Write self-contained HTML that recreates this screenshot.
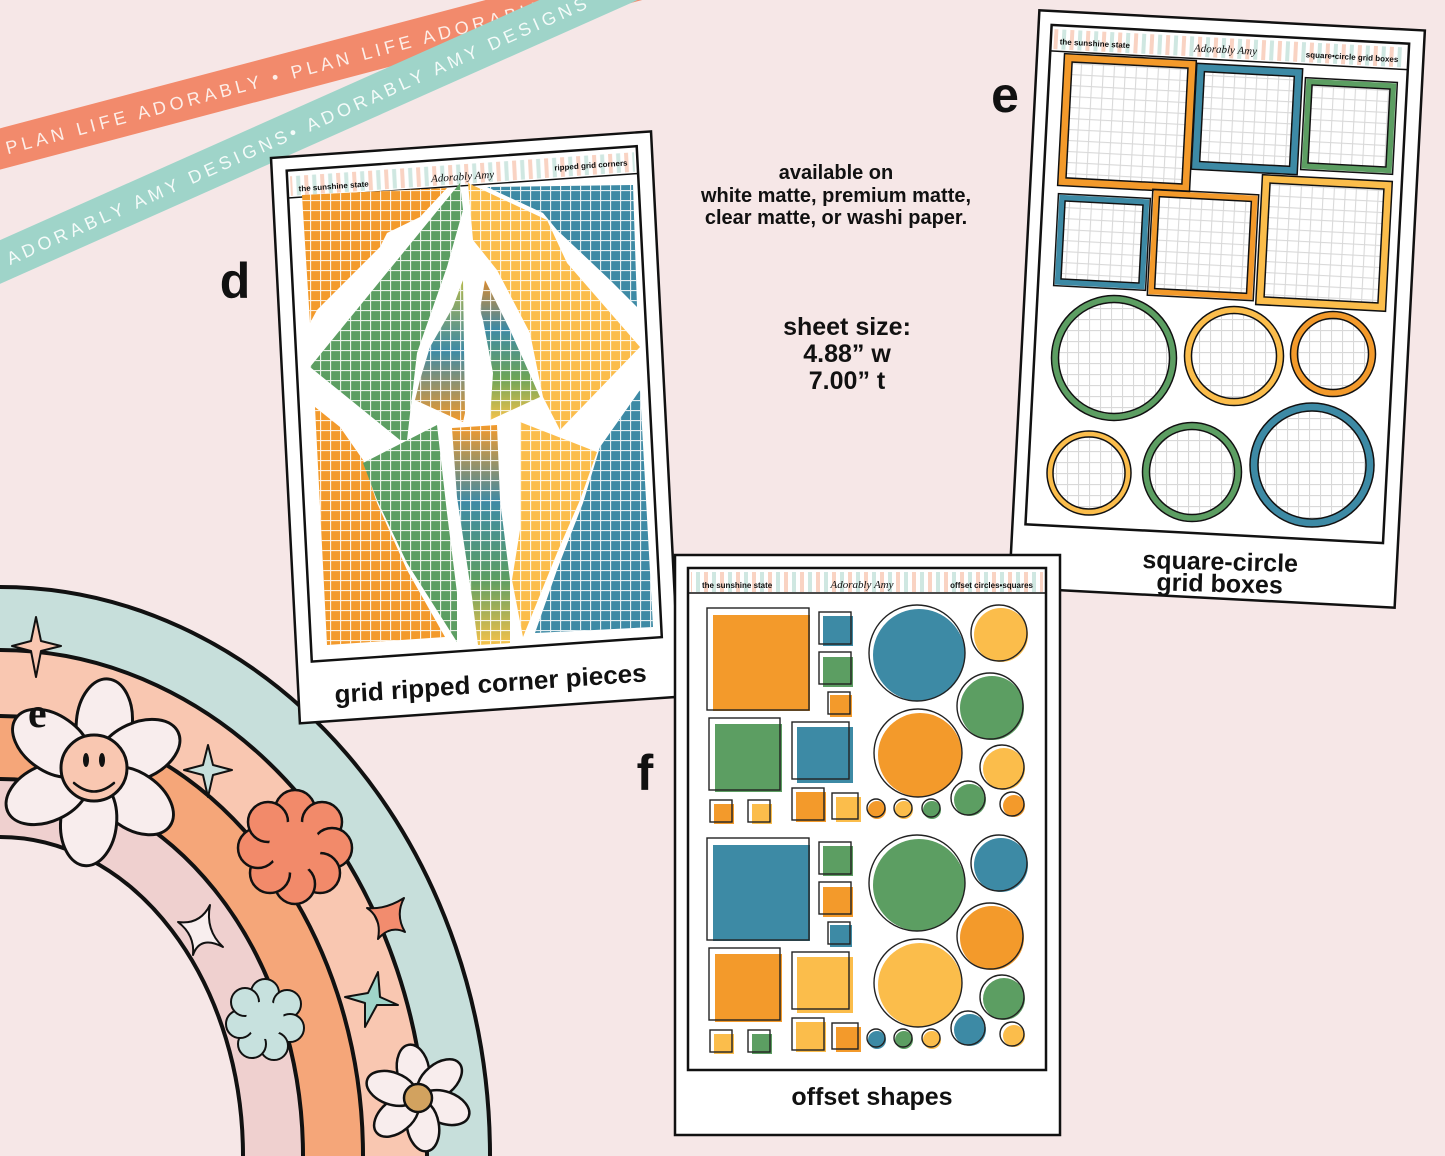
<!DOCTYPE html>
<html><head><meta charset="utf-8"><style>
html,body{margin:0;padding:0;background:#f6e7e7;width:1445px;height:1156px;overflow:hidden;}
svg{display:block;font-family:"Liberation Sans",sans-serif;}
</style></head><body>
<svg width="1445" height="1156" viewBox="0 0 1445 1156" xmlns="http://www.w3.org/2000/svg" overflow="hidden">
<defs>
<clipPath id="cv"><rect x="0" y="0" width="1445" height="1156"/></clipPath>
<pattern id="gw" width="10" height="10" patternUnits="userSpaceOnUse"><path d="M0 0.5H10M0.5 0V10" stroke="#fff" stroke-width="1.3" opacity=".85"/></pattern>
<pattern id="gg" width="11" height="11" patternUnits="userSpaceOnUse"><path d="M0 0.5H11M0.5 0V11" stroke="#d9d9d9" stroke-width="1.2"/></pattern>
<pattern id="st" width="16" height="20" patternUnits="userSpaceOnUse"><rect width="16" height="20" fill="#fff"/><rect x="0" width="4" height="20" fill="#f9d3c3"/><rect x="8" width="4" height="20" fill="#cfe7e1"/></pattern>
<linearGradient id="gl" x1="0" y1="0" x2="0" y2="1"><stop offset="0" stop-color="#b3b84a"/><stop offset=".5" stop-color="#3d8aa5"/><stop offset="1" stop-color="#f39a2b"/></linearGradient>
<linearGradient id="gr" x1="0" y1="0" x2="0" y2="1"><stop offset="0" stop-color="#d98a30"/><stop offset=".35" stop-color="#3d8aa5"/><stop offset=".7" stop-color="#6da457"/><stop offset="1" stop-color="#f4c24a"/></linearGradient>
<linearGradient id="gm" x1="0" y1="0" x2="0" y2="1"><stop offset="0" stop-color="#f39a2b"/><stop offset=".35" stop-color="#3d8aa5"/><stop offset=".7" stop-color="#5c9e62"/><stop offset="1" stop-color="#f6c24a"/></linearGradient>
</defs>
<g clip-path="url(#cv)">
<!-- ribbons -->
<g transform="translate(0,149) rotate(-14.8)">
<rect x="-60" y="-20" width="800" height="40" fill="#f28a6c"/>
<text x="6" y="7" font-size="18" letter-spacing="4.2" fill="#fdeee8">PLAN LIFE ADORABLY • PLAN LIFE ADORABLY • PLAN</text>
</g>
<g transform="translate(0,262) rotate(-24)">
<rect x="-60" y="-20" width="800" height="40" fill="#9fd4c9"/>
<text x="8" y="7" font-size="18" letter-spacing="4.2" fill="#f4fbf9">ADORABLY AMY DESIGNS• ADORABLY AMY DESIGNS • AD</text>
</g>

<!-- rainbow -->
<g stroke="#111" stroke-width="4">
<ellipse cx="0" cy="1156" rx="490" ry="569" fill="#c7dfdb"/>
<ellipse cx="0" cy="1156" rx="427" ry="506" fill="#f9c7b1"/>
<ellipse cx="0" cy="1156" rx="363" ry="440" fill="#f5a679"/>
<ellipse cx="0" cy="1156" rx="303" ry="377" fill="#efd0cf"/>
<ellipse cx="0" cy="1156" rx="243" ry="319" fill="#f6e7e7"/>
</g>
<g stroke="#111" stroke-width="2" stroke-linejoin="round">
<path d="M36 617 L41 641 L61 646 L41 651 L36 677 L31 651 L12 646 L31 641Z" fill="#f9c7b1"/>
<path d="M208 745 L213 765 L232 770 L213 775 L208 797 L203 775 L184 770 L203 765Z" fill="#c7dfdb"/>
<path d="M178 922 Q200 925 210 905 Q205 930 223 947 Q200 935 193 955 Q195 935 178 922Z" fill="#f8eeee"/>
<path d="M404 898 Q385 910 367 908 Q382 918 378 939 Q390 925 405 932 Q395 915 404 898Z" fill="#f28c6e"/>
<path d="M378 972 L380 997 L398 1005 L377 1005 L365 1027 L365 1003 L345 997 L368 993Z" fill="#9fd4c9"/>
</g>
<g stroke="#111" stroke-width="3" fill="#f8eded">
<ellipse cx="100" cy="722" rx="28" ry="44" transform="rotate(5 93 772)"/>
<ellipse cx="93" cy="722" rx="28" ry="44" transform="rotate(65 93 772)"/>
<ellipse cx="93" cy="722" rx="28" ry="44" transform="rotate(125 93 772)"/>
<ellipse cx="93" cy="722" rx="28" ry="44" transform="rotate(185 93 772)"/>
<ellipse cx="93" cy="722" rx="28" ry="44" transform="rotate(245 93 772)"/>
<ellipse cx="93" cy="722" rx="28" ry="44" transform="rotate(305 93 772)"/>
<circle cx="94" cy="768" r="33" fill="#f9c7b1"/>
</g>
<path d="M74 783 Q94 800 114 783" stroke="#111" fill="none" stroke-width="2.5" stroke-linecap="round"/>
<ellipse cx="86" cy="760" rx="3" ry="7" fill="#111"/><ellipse cx="102" cy="760" rx="3" ry="7" fill="#111"/>
<text x="28" y="727" font-family="Liberation Serif,serif" font-size="42" font-weight="bold" fill="#111">e</text>
<g stroke="#111" stroke-width="2.5" fill="#f28a6a">
<circle cx="295" cy="810" r="20"/><circle cx="322" cy="822" r="20"/><circle cx="332" cy="848" r="20"/><circle cx="320" cy="873" r="20"/><circle cx="295" cy="884" r="20"/><circle cx="270" cy="873" r="20"/><circle cx="258" cy="848" r="20"/><circle cx="268" cy="822" r="20"/>
<circle cx="295" cy="847" r="26" stroke="none"/>
</g>
<g stroke="#111" stroke-width="2" fill="#c7e1de">
<circle cx="265" cy="993" r="14"/><circle cx="287" cy="1004" r="14"/><circle cx="290" cy="1028" r="14"/><circle cx="274" cy="1046" r="14"/><circle cx="252" cy="1044" r="14"/><circle cx="240" cy="1024" r="14"/><circle cx="245" cy="1002" r="14"/>
<circle cx="265" cy="1020" r="19" stroke="none"/>
</g>
<g stroke="#111" stroke-width="2.5" fill="#f8eded">
<ellipse cx="418" cy="1070" rx="16" ry="26" transform="rotate(-10 418 1098)"/>
<ellipse cx="418" cy="1070" rx="16" ry="26" transform="rotate(50 418 1098)"/>
<ellipse cx="418" cy="1070" rx="16" ry="26" transform="rotate(110 418 1098)"/>
<ellipse cx="418" cy="1070" rx="16" ry="26" transform="rotate(170 418 1098)"/>
<ellipse cx="418" cy="1070" rx="16" ry="26" transform="rotate(230 418 1098)"/>
<ellipse cx="418" cy="1070" rx="16" ry="26" transform="rotate(290 418 1098)"/>
<circle cx="418" cy="1098" r="14" fill="#d2a25f"/>
</g>

<!-- labels -->
<text x="235" y="298" text-anchor="middle" font-size="50" font-weight="bold" fill="#111">d</text>
<text x="1005" y="112" text-anchor="middle" font-size="50" font-weight="bold" fill="#111">e</text>
<text x="645" y="790" text-anchor="middle" font-size="50" font-weight="bold" fill="#111">f</text>
<g font-size="20" font-weight="bold" fill="#111" text-anchor="middle">
<text x="836" y="179">available on</text>
<text x="836" y="202">white matte, premium matte,</text>
<text x="836" y="224">clear matte, or washi paper.</text>
</g>
<g font-size="25" font-weight="bold" fill="#111" text-anchor="middle">
<text x="847" y="335">sheet size:</text>
<text x="847" y="362">4.88” w</text>
<text x="847" y="389">7.00” t</text>
</g>

<!-- SHEET D -->
<g transform="matrix(1.0,-0.07,0.05,0.978,271,158)">
<rect x="0" y="0" width="380" height="578" fill="#fff" stroke="#111" stroke-width="2.5"/>
<rect x="15" y="14" width="350" height="502" fill="#fff" stroke="#111" stroke-width="2.5"/>
<rect x="18" y="20" width="344" height="20" fill="url(#st)"/>
<line x1="15" y1="42" x2="365" y2="42" stroke="#111" stroke-width="1.5"/>
<text x="26" y="36" font-size="8" font-weight="bold" fill="#111">the sunshine state</text>
<text x="190" y="36" font-size="11" font-style="italic" font-family="Liberation Serif,serif" text-anchor="middle" fill="#111">Adorably Amy</text>
<text x="355" y="33" font-size="8" font-weight="bold" fill="#111" text-anchor="end">ripped grid corners</text>
<text x="192" y="560" font-size="26" font-weight="bold" fill="#111" text-anchor="middle">grid ripped corner pieces</text>
</g>
<g>
<polygon points="302,195 447,188 420,217 387,233 380,247 350,277 317,310 310,323" fill="#f39a2b"/>
<polygon points="487,187 633,185 637,307 610,280 557,230 543,213" fill="#3d8aa5"/>
<polygon points="460,183 463,210 447,267 417,353 407,440 400,440 310,367" fill="#5c9e62"/>
<polygon points="468,183 547,220 567,263 640,347 560,430 543,397 530,333 497,270 473,240" fill="#fbbd4b"/>
<polygon points="463,280 465,413 463,422 415,400 420,380 430,347 453,307" fill="url(#gl)"/>
<polygon points="485,280 510,330 540,397 490,420 493,373 483,320 480,310" fill="url(#gr)"/>
<polygon points="315,407 340,427 363,460 377,503 407,570 445,637 327,645" fill="#f39a2b"/>
<polygon points="363,463 437,425 447,513 457,593 457,642 407,563 377,500" fill="#5c9e62"/>
<polygon points="452,428 497,425 500,500 510,580 510,643 478,645 472,597 457,497" fill="url(#gm)"/>
<polygon points="520,422 597,452 580,500 557,553 523,637 512,580 520,530" fill="#fbbd4b"/>
<polygon points="640,390 653,627 535,633 557,570 583,503 600,447" fill="#3d8aa5"/>
<g fill="url(#gw)">
<polygon points="302,195 447,188 420,217 387,233 380,247 350,277 317,310 310,323"/>
<polygon points="487,187 633,185 637,307 610,280 557,230 543,213"/>
<polygon points="460,183 463,210 447,267 417,353 407,440 400,440 310,367"/>
<polygon points="468,183 547,220 567,263 640,347 560,430 543,397 530,333 497,270 473,240"/>
<polygon points="463,280 465,413 463,422 415,400 420,380 430,347 453,307"/>
<polygon points="485,280 510,330 540,397 490,420 493,373 483,320 480,310"/>
<polygon points="315,407 340,427 363,460 377,503 407,570 445,637 327,645"/>
<polygon points="363,463 437,425 447,513 457,593 457,642 407,563 377,500"/>
<polygon points="452,428 497,425 500,500 510,580 510,643 478,645 472,597 457,497"/>
<polygon points="520,422 597,452 580,500 557,553 523,637 512,580 520,530"/>
<polygon points="640,390 653,627 535,633 557,570 583,503 600,447"/>
</g>
</g>

<!-- SHEET E -->
<g transform="rotate(3 1217 309)">
<rect x="1024" y="20" width="386" height="578" fill="#fff" stroke="#111" stroke-width="2.5"/>
<rect x="1037" y="34" width="358" height="500" fill="#fff" stroke="#111" stroke-width="2.5"/>
<rect x="1040" y="38" width="352" height="20" fill="url(#st)"/>
<line x1="1037" y1="60" x2="1395" y2="60" stroke="#111" stroke-width="1.5"/>
<text x="1046" y="53" font-size="8" font-weight="bold" fill="#111">the sunshine state</text>
<text x="1212" y="53" font-size="11" font-style="italic" font-family="Liberation Serif,serif" text-anchor="middle" fill="#111">Adorably Amy</text>
<text x="1385" y="53" font-size="8" font-weight="bold" fill="#111" text-anchor="end">square•circle grid boxes</text>
</g>
<g transform="rotate(1.5 1220 570)">
<text x="1220" y="570" font-size="25" font-weight="bold" fill="#111" text-anchor="middle">square-circle</text>
<text x="1220" y="592" font-size="25" font-weight="bold" fill="#111" text-anchor="middle">grid boxes</text>
</g>
<g>
<g transform="rotate(3 1127 123)"><rect x="1065" y="61" width="124" height="124" fill="url(#gg)" stroke="#f39a2b" stroke-width="7"/><rect x="1061" y="57" width="132" height="132" fill="none" stroke="#111" stroke-width="1.5"/><rect x="1069" y="65" width="116" height="116" fill="none" stroke="#111" stroke-width="1.5"/></g>
<g transform="rotate(3 1247 119)"><rect x="1198" y="70" width="98" height="98" fill="url(#gg)" stroke="#3d8aa5" stroke-width="7"/><rect x="1194" y="66" width="106" height="106" fill="none" stroke="#111" stroke-width="1.5"/><rect x="1202" y="74" width="90" height="90" fill="none" stroke="#111" stroke-width="1.5"/></g>
<g transform="rotate(3 1349 126)"><rect x="1307" y="84" width="84" height="84" fill="url(#gg)" stroke="#5c9e62" stroke-width="6"/><rect x="1303" y="80" width="92" height="92" fill="none" stroke="#111" stroke-width="1.5"/><rect x="1310" y="87" width="78" height="78" fill="none" stroke="#111" stroke-width="1.5"/></g>
<g transform="rotate(3 1102 242)"><rect x="1060" y="200" width="84" height="84" fill="url(#gg)" stroke="#3d8aa5" stroke-width="6"/><rect x="1056" y="196" width="92" height="92" fill="none" stroke="#111" stroke-width="1.5"/><rect x="1063" y="203" width="78" height="78" fill="none" stroke="#111" stroke-width="1.5"/></g>
<g transform="rotate(3 1203 245)"><rect x="1154" y="196" width="98" height="98" fill="url(#gg)" stroke="#f39a2b" stroke-width="6"/><rect x="1150" y="192" width="106" height="106" fill="none" stroke="#111" stroke-width="1.5"/><rect x="1157" y="199" width="92" height="92" fill="none" stroke="#111" stroke-width="1.5"/></g>
<g transform="rotate(3 1324 243)"><rect x="1263" y="182" width="122" height="122" fill="url(#gg)" stroke="#fbbd4b" stroke-width="7"/><rect x="1259" y="178" width="130" height="130" fill="none" stroke="#111" stroke-width="1.5"/><rect x="1267" y="186" width="114" height="114" fill="none" stroke="#111" stroke-width="1.5"/></g>
<g fill="url(#gg)" stroke-width="6">
<circle cx="1114" cy="358" r="59" stroke="#5c9e62"/>
<circle cx="1234" cy="356" r="46" stroke="#fbbd4b"/>
<circle cx="1333" cy="354" r="39" stroke="#f39a2b"/>
<circle cx="1089" cy="473" r="39" stroke="#fbbd4b" stroke-width="5"/>
<circle cx="1192" cy="472" r="46" stroke="#5c9e62"/>
<circle cx="1312" cy="465" r="58" stroke="#3d8aa5" stroke-width="7"/>
</g>
<g fill="none" stroke="#111" stroke-width="1.5">
<circle cx="1114" cy="358" r="62.5"/><circle cx="1114" cy="358" r="55.5"/>
<circle cx="1234" cy="356" r="49.5"/><circle cx="1234" cy="356" r="42.5"/>
<circle cx="1333" cy="354" r="42.5"/><circle cx="1333" cy="354" r="35.5"/>
<circle cx="1089" cy="473" r="42"/><circle cx="1089" cy="473" r="36"/>
<circle cx="1192" cy="472" r="49.5"/><circle cx="1192" cy="472" r="42.5"/>
<circle cx="1312" cy="465" r="62"/><circle cx="1312" cy="465" r="54"/>
</g>
</g>

<!-- SHEET F -->
<rect x="675" y="555" width="385" height="580" fill="#fff" stroke="#111" stroke-width="2.5"/>
<rect x="688" y="568" width="358" height="502" fill="#fff" stroke="#111" stroke-width="2.5"/>
<rect x="691" y="572" width="352" height="20" fill="url(#st)"/>
<line x1="688" y1="593" x2="1046" y2="593" stroke="#111" stroke-width="1.5"/>
<text x="702" y="588" font-size="8" font-weight="bold" fill="#111">the sunshine state</text>
<text x="862" y="588" font-size="11" font-style="italic" font-family="Liberation Serif,serif" text-anchor="middle" fill="#111">Adorably Amy</text>
<text x="1033" y="588" font-size="8" font-weight="bold" fill="#111" text-anchor="end">offset circles•squares</text>
<text x="872" y="1105" font-size="25" font-weight="bold" fill="#111" text-anchor="middle">offset shapes</text>
<g>
<rect x="713" y="615" width="97" height="96" fill="#f39a2b"/>
<rect x="823" y="616" width="30" height="30" fill="#3d8aa5"/>
<rect x="823" y="657" width="30" height="30" fill="#5c9e62"/>
<rect x="830" y="695" width="22" height="22" fill="#f39a2b"/>
<rect x="715" y="724" width="67" height="68" fill="#5c9e62"/>
<rect x="797" y="727" width="56" height="56" fill="#3d8aa5"/>
<rect x="714" y="804" width="20" height="20" fill="#f39a2b"/>
<rect x="752" y="804" width="20" height="20" fill="#fbbd4b"/>
<rect x="796" y="792" width="30" height="30" fill="#f39a2b"/>
<rect x="836" y="797" width="25" height="25" fill="#fbbd4b"/>
<circle cx="919" cy="655" r="46" fill="#3d8aa5"/>
<circle cx="1001" cy="635" r="27" fill="#fbbd4b"/>
<circle cx="992" cy="708" r="32" fill="#5c9e62"/>
<circle cx="920" cy="755" r="42" fill="#f39a2b"/>
<circle cx="1004" cy="769" r="21" fill="#fbbd4b"/>
<circle cx="970" cy="800" r="16" fill="#5c9e62"/>
<circle cx="1014" cy="806" r="11" fill="#f39a2b"/>
<circle cx="877" cy="810" r="9" fill="#f39a2b"/>
<circle cx="904" cy="810" r="9" fill="#fbbd4b"/>
<circle cx="932" cy="810" r="9" fill="#5c9e62"/>
<rect x="713" y="845" width="97" height="96" fill="#3d8aa5"/>
<rect x="823" y="846" width="30" height="30" fill="#5c9e62"/>
<rect x="823" y="887" width="30" height="30" fill="#f39a2b"/>
<rect x="830" y="925" width="22" height="22" fill="#3d8aa5"/>
<rect x="715" y="954" width="67" height="68" fill="#f39a2b"/>
<rect x="797" y="957" width="56" height="56" fill="#fbbd4b"/>
<rect x="714" y="1034" width="20" height="20" fill="#fbbd4b"/>
<rect x="752" y="1034" width="20" height="20" fill="#5c9e62"/>
<rect x="796" y="1022" width="30" height="30" fill="#fbbd4b"/>
<rect x="836" y="1027" width="25" height="25" fill="#f39a2b"/>
<circle cx="919" cy="885" r="46" fill="#5c9e62"/>
<circle cx="1001" cy="865" r="27" fill="#3d8aa5"/>
<circle cx="992" cy="938" r="32" fill="#f39a2b"/>
<circle cx="920" cy="985" r="42" fill="#fbbd4b"/>
<circle cx="1004" cy="999" r="21" fill="#5c9e62"/>
<circle cx="970" cy="1030" r="16" fill="#3d8aa5"/>
<circle cx="1014" cy="1036" r="11" fill="#fbbd4b"/>
<circle cx="877" cy="1040" r="9" fill="#3d8aa5"/>
<circle cx="904" cy="1040" r="9" fill="#5c9e62"/>
<circle cx="932" cy="1040" r="9" fill="#fbbd4b"/>
<g fill="none" stroke="#222" stroke-width="1.4">
<rect x="707" y="608" width="102" height="102"/>
<rect x="819" y="612" width="32" height="32"/>
<rect x="819" y="652" width="32" height="32"/>
<rect x="828" y="692" width="22" height="22"/>
<rect x="709" y="718" width="71" height="72"/>
<rect x="792" y="722" width="57" height="57"/>
<rect x="710" y="800" width="22" height="22"/>
<rect x="748" y="800" width="22" height="22"/>
<rect x="792" y="788" width="32" height="32"/>
<rect x="832" y="793" width="26" height="26"/>
<circle cx="917" cy="653" r="48"/>
<circle cx="999" cy="633" r="28"/>
<circle cx="990" cy="706" r="33"/>
<circle cx="918" cy="753" r="44"/>
<circle cx="1002" cy="767" r="22"/>
<circle cx="968" cy="798" r="17"/>
<circle cx="1012" cy="804" r="12"/>
<circle cx="876" cy="808" r="9"/>
<circle cx="903" cy="808" r="9"/>
<circle cx="931" cy="808" r="9"/>
<rect x="707" y="838" width="102" height="102"/>
<rect x="819" y="842" width="32" height="32"/>
<rect x="819" y="882" width="32" height="32"/>
<rect x="828" y="922" width="22" height="22"/>
<rect x="709" y="948" width="71" height="72"/>
<rect x="792" y="952" width="57" height="57"/>
<rect x="710" y="1030" width="22" height="22"/>
<rect x="748" y="1030" width="22" height="22"/>
<rect x="792" y="1018" width="32" height="32"/>
<rect x="832" y="1023" width="26" height="26"/>
<circle cx="917" cy="883" r="48"/>
<circle cx="999" cy="863" r="28"/>
<circle cx="990" cy="936" r="33"/>
<circle cx="918" cy="983" r="44"/>
<circle cx="1002" cy="997" r="22"/>
<circle cx="968" cy="1028" r="17"/>
<circle cx="1012" cy="1034" r="12"/>
<circle cx="876" cy="1038" r="9"/>
<circle cx="903" cy="1038" r="9"/>
<circle cx="931" cy="1038" r="9"/>
</g>
</g>
</g>
</svg>
</body></html>
